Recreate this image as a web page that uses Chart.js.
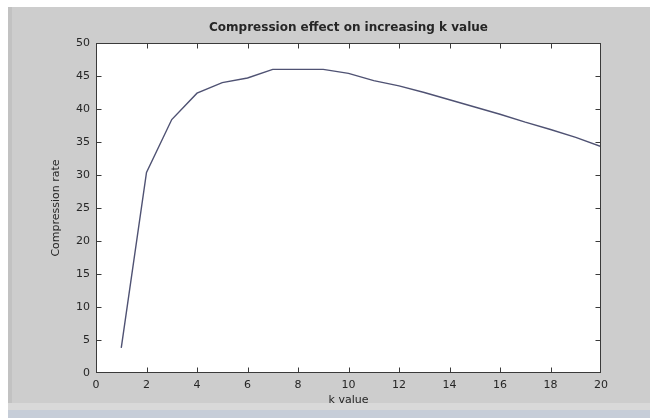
<!DOCTYPE html>
<html>
<head>
<meta charset="utf-8">
<script src="https://cdn.jsdelivr.net/npm/chart.js@4/dist/chart.umd.min.js"></script>
<style>
  html, body { margin: 0; padding: 0; background: #ffffff; overflow: hidden; }
  #fig {
    position: absolute; left: 8px; top: 7px; width: 638px; height: 396px;
    background: #cdcdcd; border-left: 4px solid #c2c2c2;
  }
  #band1 { position: absolute; left: 8px; top: 403px; width: 642px; height: 7px; background: #d9d9d9; }
  #band2 { position: absolute; left: 8px; top: 410px; width: 642px; height: 8px; background: #c6cdd8; }
  #chart { position: absolute; left: 0; top: 0; }
</style>
</head>
<body>
<div id="fig"></div>
<div id="band1"></div>
<div id="band2"></div>
<canvas id="chart" width="650" height="418"></canvas>
<script>
// k values and the compression rate
const kValues = [1, 2, 3, 4, 5, 6, 7, 8, 9, 10, 11, 12, 13, 14, 15, 16, 17, 18, 19, 20];
const compressionRate = [3.8, 30.4, 38.4, 42.4, 44.0, 44.7, 46.0, 46.0, 46.0, 45.4,
                         44.3, 43.5, 42.5, 41.4, 40.3, 39.2, 38.0, 36.9, 35.7, 34.3];

const titleText = 'Compression effect on increasing k value';
const xLabel = 'k value';
const yLabel = 'Compression rate';

const font = 'DejaVu Sans';
const textColor = '#262626';

// matlab-like box with inward ticks on all four sides
const matlabAxes = {
    id: 'matlabAxes',
    afterDatasetsDraw(chart) {
        const { ctx, chartArea: a, scales: { x, y } } = chart;
        const L = Math.round(a.left) + 0.5, R = Math.round(a.right) - 0.5;
        const T = Math.round(a.top) + 0.5, B = Math.round(a.bottom) - 0.5;
        const clamp = (v, lo, hi) => Math.min(Math.max(v, lo), hi);
        ctx.save();
        ctx.strokeStyle = '#3a3a3a';
        ctx.lineWidth = 1;
        ctx.beginPath();
        x.ticks.forEach(t => {
            const px = clamp(Math.round(x.getPixelForValue(t.value)) + 0.5, L, R);
            ctx.moveTo(px, B); ctx.lineTo(px, B - 5);
            ctx.moveTo(px, T); ctx.lineTo(px, T + 5);
        });
        y.ticks.forEach(t => {
            const py = clamp(Math.round(y.getPixelForValue(t.value)) + 0.5, T, B);
            ctx.moveTo(L, py); ctx.lineTo(L + 5, py);
            ctx.moveTo(R, py); ctx.lineTo(R - 5, py);
        });
        ctx.stroke();
        ctx.strokeRect(L, T, R - L, B - T);
        ctx.restore();
    }
};

const whitePlot = {
    id: 'whitePlot',
    beforeDraw(chart) {
        const { ctx, chartArea: a } = chart;
        ctx.save();
        ctx.fillStyle = '#ffffff';
        ctx.fillRect(a.left, a.top, a.right - a.left, a.bottom - a.top);
        ctx.restore();
    }
};

new Chart(document.getElementById('chart'), {
    type: 'line',
    data: {
        datasets: [{
            label: yLabel,
            data: kValues.map((k, i) => ({ x: k, y: compressionRate[i] })),
            borderColor: '#4f5273',
            borderWidth: 1.4,
            pointRadius: 0,
            tension: 0,
            fill: false
        }]
    },
    options: {
        responsive: false,
        animation: false,
        layout: { padding: { left: 0, right: 49, top: 0, bottom: 0 } },
        plugins: {
            legend: { display: false },
            tooltip: { enabled: false },
            title: {
                display: true,
                text: titleText,
                fullSize: false,
                color: textColor,
                font: { family: font, size: 12, weight: 'bold' },
                padding: { top: 21, bottom: 7.6 }
            }
        },
        scales: {
            x: {
                type: 'linear',
                min: 0,
                max: 20,
                grid: { display: false, drawTicks: false },
                border: { display: false },
                ticks: { stepSize: 2, color: textColor, padding: 6, font: { family: font, size: 11 } },
                title: { display: true, text: xLabel, color: textColor, font: { family: font, size: 11 }, padding: { top: 0, bottom: 11 } },
                afterFit(scale) { scale.height = 45; }
            },
            y: {
                min: 0,
                max: 50,
                grid: { display: false, drawTicks: false },
                border: { display: false },
                ticks: { stepSize: 5, color: textColor, padding: 6, font: { family: font, size: 11 } },
                title: { display: true, text: yLabel, color: textColor, font: { family: font, size: 11 }, padding: { top: 50, bottom: 0 } },
                afterFit(scale) { scale.width = 96; }
            }
        }
    },
    plugins: [whitePlot, matlabAxes]
});
</script>
</body>
</html>
